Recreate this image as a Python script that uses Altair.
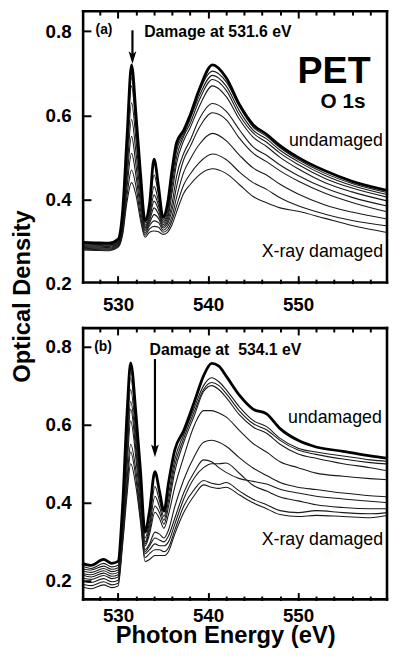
import altair as alt
import pandas as pd

FONT = "Liberation Sans"

# ---------------- Panel (a): damage at 531.6 eV ----------------
E_A = [526, 527.5, 529, 530, 530.5, 531, 531.5, 532, 532.5, 533, 533.5, 534, 534.5, 535, 535.5,
       536, 536.5, 537.3, 538, 539, 540.5, 542, 543.5, 545, 546.5, 548, 550, 553, 556, 560]
A_CURVES = [
    [.298, .297, .296, .305, .37, .55, .72, .60, .46, .35, .39, .496, .43, .358, .39,
     .47, .535, .565, .60, .66, .72, .69, .625, .578, .555, .528, .50, .468, .443, .421],
    [.296, .295, .294, .303, .36, .54, .71, .59, .455, .345, .38, .458, .41, .352, .38,
     .46, .525, .56, .595, .655, .705, .68, .62, .572, .55, .523, .495, .462, .438, .416],
    [.294, .293, .292, .300, .35, .53, .69, .58, .445, .34, .37, .431, .395, .348, .37,
     .445, .515, .555, .59, .645, .695, .67, .61, .565, .544, .517, .49, .457, .433, .411],
    [.292, .291, .29, .298, .345, .52, .67, .565, .435, .336, .362, .411, .385, .344, .362,
     .43, .5, .55, .58, .635, .685, .66, .60, .558, .536, .51, .483, .45, .427, .405],
    [.29, .289, .288, .296, .34, .49, .63, .54, .42, .333, .356, .396, .375, .34, .355,
     .415, .485, .54, .57, .62, .67, .645, .59, .548, .526, .50, .473, .44, .418, .396],
    [.288, .287, .286, .294, .335, .47, .59, .51, .405, .329, .35, .38, .365, .336, .348,
     .39, .455, .51, .54, .59, .628, .61, .565, .525, .505, .482, .457, .427, .405, .384],
    [.286, .285, .284, .292, .33, .45, .55, .48, .39, .325, .344, .364, .355, .332, .342,
     .375, .43, .495, .525, .57, .606, .59, .545, .51, .49, .468, .444, .415, .393, .37],
    [.284, .283, .282, .29, .325, .43, .51, .455, .375, .32, .338, .349, .345, .327, .335,
     .36, .405, .465, .495, .53, .557, .54, .505, .475, .458, .436, .413, .387, .37, .353],
    [.282, .281, .28, .288, .32, .41, .47, .43, .36, .315, .33, .336, .334, .322, .328,
     .35, .385, .435, .46, .487, .508, .495, .465, .44, .424, .404, .385, .365, .35, .337],
    [.28, .279, .278, .286, .315, .395, .44, .41, .35, .31, .322, .325, .323, .317, .322,
     .34, .37, .415, .435, .458, .473, .462, .435, .407, .392, .38, .372, .355, .338, .321],
]

# ---------------- Panel (b): damage at 534.1 eV ----------------
E_B = [526, 527, 528.4, 529.3, 530, 530.5, 531, 531.4, 532, 532.5, 533, 533.5, 534.1, 534.6, 535.1,
       535.6, 536.3, 537.3, 538.5, 539.5, 540.4, 541.2, 542, 543.5, 545, 546.5, 548, 550, 552, 555, 558, 560]
B_CURVES = [
    [.245, .24, .255, .245, .25, .39, .63, .758, .625, .48, .325, .38, .48, .43, .379,
     .45, .535, .585, .66, .725, .757, .75, .725, .675, .64, .628, .59, .56, .543, .532, .52, .514],
    [.238, .232, .245, .236, .24, .37, .61, .74, .61, .46, .31, .35, .442, .405, .365,
     .42, .51, .575, .645, .70, .72, .71, .69, .645, .611, .595, .565, .54, .53, .52, .51, .506],
    [.232, .228, .238, .23, .234, .36, .59, .72, .59, .45, .30, .34, .417, .39, .355,
     .405, .495, .565, .635, .69, .708, .70, .68, .635, .603, .587, .56, .535, .524, .512, .503, .499],
    [.226, .222, .232, .224, .228, .35, .57, .69, .57, .44, .295, .33, .392, .375, .345,
     .39, .48, .555, .625, .685, .70, .69, .67, .625, .594, .578, .55, .525, .514, .50, .49, .482],
    [.22, .216, .226, .218, .222, .34, .54, .66, .55, .42, .29, .32, .376, .36, .335,
     .37, .44, .518, .60, .636, .636, .63, .62, .585, .552, .53, .505, .49, .476, .468, .462, .459],
    [.215, .21, .22, .212, .216, .33, .52, .64, .53, .41, .28, .295, .325, .32, .31,
     .33, .39, .459, .52, .555, .56, .555, .545, .515, .489, .47, .452, .44, .434, .425, .418, .415],
    [.208, .204, .214, .206, .21, .32, .49, .61, .51, .39, .275, .29, .31, .305, .30,
     .315, .36, .426, .48, .51, .505, .49, .478, .462, .455, .448, .435, .425, .417, .41, .404, .40],
    [.20, .196, .206, .198, .202, .31, .46, .55, .48, .37, .27, .28, .295, .29, .29,
     .30, .345, .41, .465, .49, .50, .50, .502, .475, .445, .43, .415, .405, .395, .388, .385, .385],
    [.192, .188, .198, .19, .194, .30, .44, .53, .46, .36, .26, .27, .28, .28, .275,
     .285, .33, .392, .435, .457, .45, .447, .452, .43, .409, .395, .38, .375, .38, .375, .372, .375],
    [.185, .18, .19, .183, .187, .29, .42, .50, .44, .35, .25, .255, .265, .265, .265,
     .275, .32, .375, .42, .446, .44, .437, .44, .42, .40, .385, .37, .365, .368, .365, .362, .368],
]

X_DOMAIN = [526, 560]
X_LABELS = [530, 540, 550]
X_MINOR = [528, 532, 534, 536, 538, 542, 544, 546, 548, 552, 554, 556, 558]
Y_LABELS = [0.2, 0.4, 0.6, 0.8]
W, H = 310, 277

for c in A_CURVES:
    assert len(c) == len(E_A)
for c in B_CURVES:
    assert len(c) == len(E_B)


def long_df(E, curves):
    rows = []
    for i, c in enumerate(curves):
        for e, v in zip(E, c):
            rows.append({"E": e, "OD": v, "curve": i})
    return pd.DataFrame(rows)


def tick_axis(orient, values, size):
    return alt.Axis(orient=orient, values=values, offset=-size, tickSize=size, ticks=True,
                    labels=False, domain=False, grid=False, tickColor="black", tickWidth=2,
                    title=None)


def panel(E, curves, y_domain, y_ticks, x_label_pad, x_title, y_title, texts, arrow):
    xs = alt.Scale(domain=X_DOMAIN, nice=False, zero=False)
    ys = alt.Scale(domain=y_domain, nice=False, zero=False)
    df = long_df(E, curves)

    x_axis_kw = dict(orient="bottom", values=X_LABELS, ticks=False, tickSize=0, domain=False,
                     grid=False, labelFont=FONT, labelFontWeight="bold", labelFontSize=19,
                     labelColor="black", labelPadding=x_label_pad)
    if x_title:
        x_axis_kw.update(title=x_title, titleFont=FONT, titleFontWeight="bold", titleFontSize=24,
                         titleColor="black", titleX=145, titleY=43, titleAlign="center",
                         titleBaseline="alphabetic")
    else:
        x_axis_kw.update(title=None)
    y_axis_kw = dict(orient="left", values=Y_LABELS, format=".1f", ticks=False, tickSize=0,
                     domain=False, grid=False, labelFont=FONT, labelFontWeight="bold",
                     labelFontSize=19, labelColor="black", labelPadding=11)
    if y_title:
        y_axis_kw.update(title=y_title, titleFont=FONT, titleFontWeight="bold", titleFontSize=24,
                         titleColor="black", titleAngle=270, titleX=-60.7, titleY=-31.5,
                         titleAlign="center", titleBaseline="middle")
    else:
        y_axis_kw.update(title=None)

    thin = alt.Chart(df[df.curve > 0]).mark_line(
        color="#1a1a1a", strokeWidth=1.1, interpolate="monotone"
    ).encode(
        x=alt.X("E:Q", scale=xs, axis=alt.Axis(**x_axis_kw)),
        y=alt.Y("OD:Q", scale=ys, axis=alt.Axis(**y_axis_kw)),
        detail="curve:N",
    )
    thick = alt.Chart(df[df.curve == 0]).mark_line(
        color="black", strokeWidth=2.8, interpolate="monotone"
    ).encode(
        x=alt.X("E:Q", scale=xs, axis=None),
        y=alt.Y("OD:Q", scale=ys, axis=None),
    )

    # plot frame drawn a hair inside the scale domains
    ex0, ex1 = X_DOMAIN[0] + 0.12, X_DOMAIN[1] - 0.12
    dy = (y_domain[1] - y_domain[0]) * 0.004
    ey0, ey1 = y_domain[0] + dy, y_domain[1] - dy
    vdf = pd.DataFrame({"E": [ex0, ex1], "Y0": [ey0] * 2, "Y1": [ey1] * 2})
    hdf_ = pd.DataFrame({"OD": [ey0, ey1], "E0": [ex0] * 2, "E1": [ex1] * 2})
    frame_v = alt.Chart(vdf).mark_rule(color="#000000", strokeWidth=2.6, strokeCap="square").encode(
        x=alt.X("E:Q", scale=xs, axis=None),
        y=alt.Y("Y0:Q", scale=ys, axis=None),
        y2="Y1:Q",
    )
    frame_h = alt.Chart(hdf_).mark_rule(color="#000000", strokeWidth=2.6, strokeCap="square").encode(
        x=alt.X("E0:Q", scale=xs, axis=None),
        x2="E1:Q",
        y=alt.Y("OD:Q", scale=ys, axis=None),
    )

    anchor = pd.DataFrame({"E": [540.0], "OD": [0.5]})
    tick_layers = [
        alt.Chart(anchor).mark_point(opacity=0).encode(
            x=alt.X("E:Q", scale=xs, axis=tick_axis("bottom", X_LABELS, 8)),
            y=alt.Y("OD:Q", scale=ys, axis=tick_axis("left", y_ticks, 9)),
        ),
        alt.Chart(anchor).mark_point(opacity=0).encode(
            x=alt.X("E:Q", scale=xs, axis=tick_axis("bottom", X_MINOR, 4.5)),
            y=alt.Y("OD:Q", scale=ys, axis=None),
        ),
        alt.Chart(anchor).mark_point(opacity=0).encode(
            x=alt.X("E:Q", scale=xs, axis=tick_axis("top", X_LABELS, 8)),
            y=alt.Y("OD:Q", scale=ys, axis=None),
        ),
        alt.Chart(anchor).mark_point(opacity=0).encode(
            x=alt.X("E:Q", scale=xs, axis=tick_axis("top", X_MINOR, 5)),
            y=alt.Y("OD:Q", scale=ys, axis=None),
        ),
    ]

    text_layers = []
    for (txt, e, od, size, weight, align) in texts:
        tdf = pd.DataFrame({"E": [e], "OD": [od], "t": [txt]})
        text_layers.append(
            alt.Chart(tdf).mark_text(font=FONT, fontSize=size, fontWeight=weight, align=align,
                                     baseline="middle", color="black").encode(
                x=alt.X("E:Q", scale=xs, axis=None),
                y=alt.Y("OD:Q", scale=ys, axis=None),
                text="t:N",
            )
        )

    ae, a_top, a_end, a_head = arrow
    rdf = pd.DataFrame({"E": [ae], "OD": [a_top], "OD2": [a_end]})
    hdf = pd.DataFrame({"E": [ae], "OD": [a_head]})
    shaft = alt.Chart(rdf).mark_rule(color="black", strokeWidth=2.2).encode(
        x=alt.X("E:Q", scale=xs, axis=None),
        y=alt.Y("OD:Q", scale=ys, axis=None),
        y2="OD2:Q",
    )
    head = alt.Chart(hdf).mark_point(
        shape="M-0.6,-1L0,1L0.6,-1L0,-0.55Z", size=170, filled=True, color="black", opacity=1
    ).encode(
        x=alt.X("E:Q", scale=xs, axis=None),
        y=alt.Y("OD:Q", scale=ys, axis=None),
    )

    return alt.layer(thin, thick, frame_v, frame_h, *tick_layers, *text_layers, shaft, head).resolve_axis(
        x="independent", y="independent"
    ).properties(width=W, height=H)


top = panel(
    E_A, A_CURVES, [0.2, 0.85], [0.4, 0.6, 0.8], 12, None, None,
    [
        ("(a)", 527.5, 0.802, 14, "bold", "left"),
        ("Damage at 531.6 eV", 532.9, 0.797, 16, "bold", "left"),
        ("PET", 554.0, 0.702, 38, "bold", "center"),
        ("O 1s", 555.0, 0.631, 21, "bold", "center"),
        ("undamaged", 554.2, 0.539, 18, "normal", "center"),
        ("X-ray damaged", 552.7, 0.276, 18, "normal", "center"),
    ],
    (531.6, 0.802, 0.742, 0.737),
)

bottom = panel(
    E_B, B_CURVES, [0.15, 0.85], [0.2, 0.4, 0.6, 0.8], 6, "Photon Energy (eV)", "Optical Density",
    [
        ("(b)", 527.35, 0.798, 14, "bold", "left"),
        ("Damage at\u00a0 534.1 eV", 533.5, 0.792, 16, "bold", "left"),
        ("undamaged", 554.1, 0.616, 18, "normal", "center"),
        ("X-ray damaged", 552.7, 0.305, 18, "normal", "center"),
    ],
    (534.1, 0.768, 0.54, 0.533),
)

chart = alt.vconcat(top, bottom, spacing=44, bounds="flush").properties(
    padding={"left": 2, "top": -3, "right": 0, "bottom": 0},
).configure_view(strokeWidth=0)

chart.save("out.html", embed_options={"renderer": "svg", "actions": False})
